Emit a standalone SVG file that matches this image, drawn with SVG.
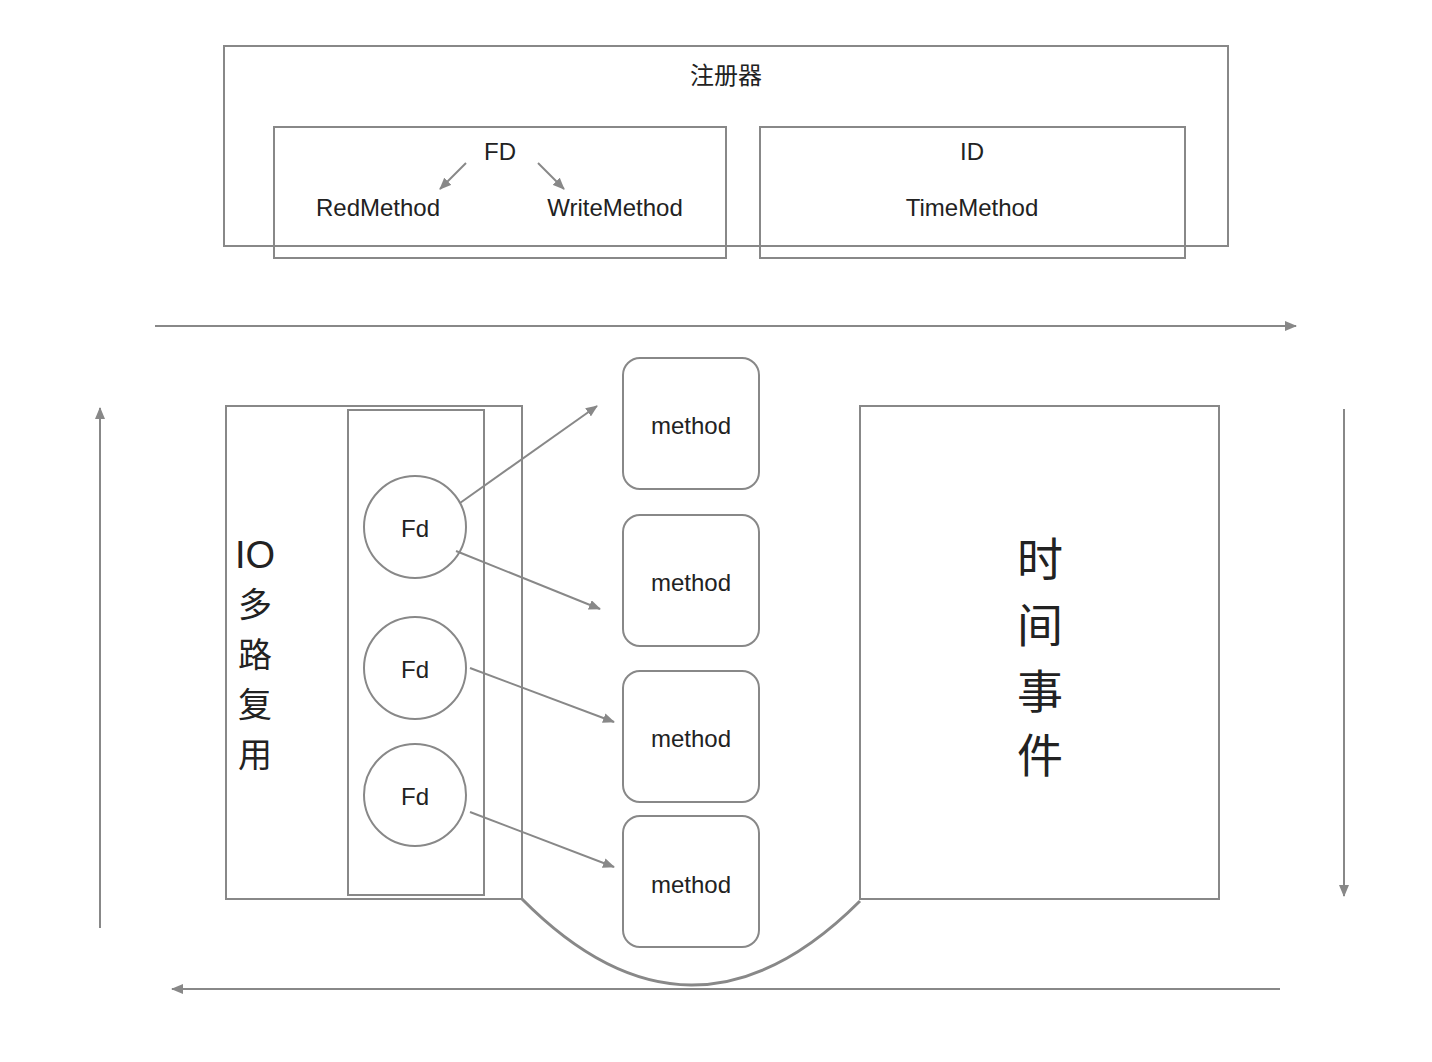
<svg xmlns="http://www.w3.org/2000/svg" width="1432" height="1062" viewBox="0 0 1432 1062">
<defs>
<style>
.box{fill:none;stroke:#888;stroke-width:2}
.ln{fill:none;stroke:#888;stroke-width:2}
.t{font-family:"Liberation Sans","Noto Sans CJK SC",sans-serif;fill:#222;text-anchor:middle;dominant-baseline:central}
.c{font-family:"Noto Sans CJK SC",sans-serif;fill:#222;text-anchor:middle;dominant-baseline:central}
</style>
<marker id="ah" viewBox="0 0 12 10" refX="11" refY="5" markerWidth="12" markerHeight="10" markerUnits="userSpaceOnUse" orient="auto">
<path d="M0,0 L12,5 L0,10 Z" fill="#888"/>
</marker>
</defs>
<rect width="1432" height="1062" fill="#fff"/>
<g id="registry">
<rect class="box" x="224" y="46" width="1004" height="200"/>
<text class="c" x="726" y="73" font-size="24">注册器</text>
</g>
<g id="fd">
<rect class="box" x="274" y="127" width="452" height="131"/>
<text class="t" x="500" y="151" font-size="24">FD</text>
<text class="t" x="378" y="207" font-size="24">RedMethod</text>
<text class="t" x="615" y="207" font-size="24">WriteMethod</text>
</g>
<g id="id">
<rect class="box" x="760" y="127" width="425" height="131"/>
<text class="t" x="972" y="151" font-size="24">ID</text>
<text class="t" x="972" y="207" font-size="24">TimeMethod</text>
</g>
<g id="io">
<rect class="box" x="226" y="406" width="296" height="493"/>
<text class="t" x="255" y="555" font-size="38">IO</text>
<text class="c" x="255" y="602" font-size="34">多</text>
<text class="c" x="255" y="652" font-size="34">路</text>
<text class="c" x="255" y="702" font-size="34">复</text>
<text class="c" x="255" y="752" font-size="34">用</text>
</g>
<g id="fdlist">
<rect class="box" x="348" y="410" width="136" height="485"/>
</g>
<g id="fd1"><circle class="box" cx="415" cy="527" r="51"/><text class="t" x="415" y="528" font-size="24">Fd</text></g>
<g id="fd2"><circle class="box" cx="415" cy="668" r="51"/><text class="t" x="415" y="669" font-size="24">Fd</text></g>
<g id="fd3"><circle class="box" cx="415" cy="795" r="51"/><text class="t" x="415" y="796" font-size="24">Fd</text></g>
<g id="m1"><rect class="box" x="623" y="358" width="136" height="131" rx="17"/><text class="t" x="691" y="425" font-size="24">method</text></g>
<g id="m2"><rect class="box" x="623" y="515" width="136" height="131" rx="17"/><text class="t" x="691" y="582" font-size="24">method</text></g>
<g id="m3"><rect class="box" x="623" y="671" width="136" height="131" rx="17"/><text class="t" x="691" y="738" font-size="24">method</text></g>
<g id="m4"><rect class="box" x="623" y="816" width="136" height="131" rx="17"/><text class="t" x="691" y="884" font-size="24">method</text></g>
<g id="time">
<rect class="box" x="860" y="406" width="359" height="493"/>
<text class="c" x="1040" y="556" font-size="46">时</text>
<text class="c" x="1040" y="622" font-size="46">间</text>
<text class="c" x="1040" y="688" font-size="46">事</text>
<text class="c" x="1040" y="752" font-size="46">件</text>
</g>
<g id="connectors">
<line class="ln" x1="466" y1="163" x2="440" y2="189" marker-end="url(#ah)"/>
<line class="ln" x1="538" y1="163" x2="564" y2="189" marker-end="url(#ah)"/>
<line class="ln" x1="155" y1="326" x2="1296" y2="326" marker-end="url(#ah)"/>
<line class="ln" x1="100" y1="928" x2="100" y2="408" marker-end="url(#ah)"/>
<line class="ln" x1="1344" y1="409" x2="1344" y2="896" marker-end="url(#ah)"/>
<line class="ln" x1="1280" y1="989" x2="172" y2="989" marker-end="url(#ah)"/>
<line class="ln" x1="460" y1="503" x2="597" y2="406" marker-end="url(#ah)"/>
<line class="ln" x1="456" y1="551" x2="600" y2="609" marker-end="url(#ah)"/>
<line class="ln" x1="470" y1="668" x2="614" y2="722" marker-end="url(#ah)"/>
<line class="ln" x1="470" y1="812" x2="614" y2="867" marker-end="url(#ah)"/>
<path d="M522,899 Q691,1070 860,901" fill="none" stroke="#888" stroke-width="3"/>
</g>
</svg>
